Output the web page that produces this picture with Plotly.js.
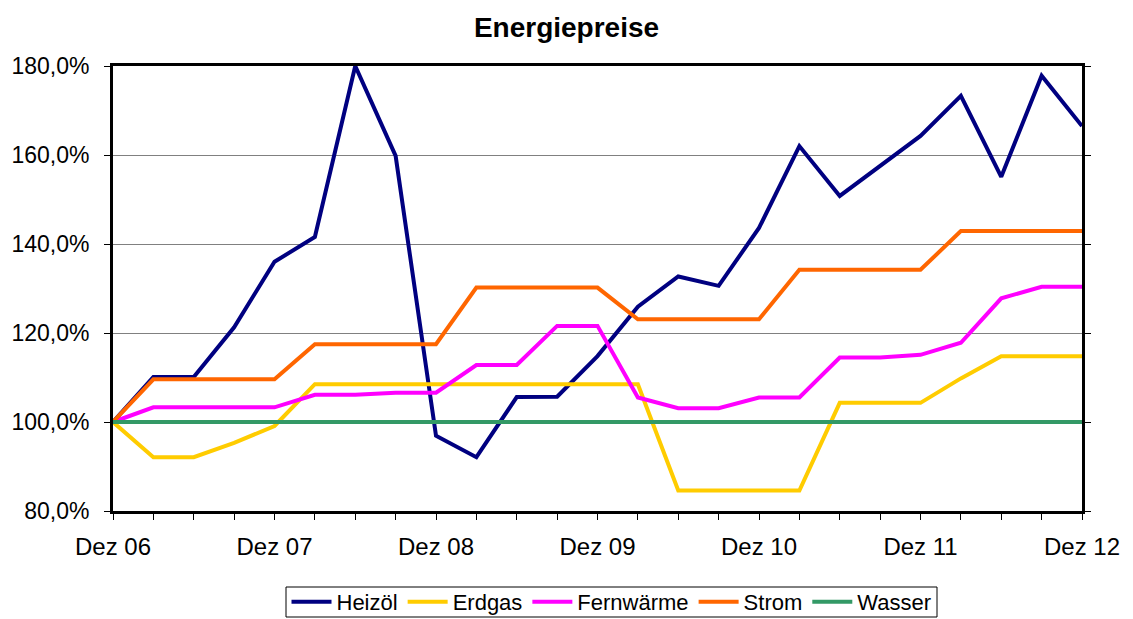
<!DOCTYPE html>
<html>
<head>
<meta charset="utf-8">
<script src="https://cdn.plot.ly/plotly-3.0.1.min.js"></script>
<style>html,body{margin:0;padding:0;background:#fff;}#chart{width:1133px;height:619px;}</style>
</head>
<body>
<div id="chart"></div>
<script>
// Quarterly index (Dez 06 = 100 %)
const quarters = Array.from({length: 25}, (_, i) => i);
const yearTickPos = [0, 4, 8, 12, 16, 20, 24];
const yearTickLabels = ["Dez 06", "Dez 07", "Dez 08", "Dez 09", "Dez 10", "Dez 11", "Dez 12"];

const heizoel = [100, 110.1, 110.1, 121.3, 136.0, 141.6, 180.0, 159.8, 96.9, 92.1, 105.6, 105.7, 114.8,
                 125.9, 132.7, 130.6, 143.6, 162.0, 150.8, 157.5, 164.3, 173.3, 155.1, 177.8, 166.5];
const erdgas = [100, 92.1, 92.1, 95.3, 99.1, 108.5, 108.5, 108.5, 108.5, 108.5, 108.5, 108.5, 108.5,
                108.5, 84.6, 84.6, 84.6, 84.6, 104.3, 104.3, 104.3, 109.8, 114.8, 114.8, 114.8];
const fernwaerme = [100, 103.3, 103.3, 103.3, 103.3, 106.1, 106.1, 106.6, 106.6, 112.8, 112.8, 121.6, 121.6,
                    105.5, 103.1, 103.1, 105.5, 105.5, 114.5, 114.5, 115.1, 117.8, 127.8, 130.4, 130.4];
const strom = [100, 109.6, 109.6, 109.6, 109.6, 117.5, 117.5, 117.5, 117.5, 130.2, 130.2, 130.2, 130.2,
               123.1, 123.1, 123.1, 123.1, 134.2, 134.2, 134.2, 134.2, 142.9, 142.9, 142.9, 142.9];
const wasser = [100, 100, 100, 100, 100, 100, 100, 100, 100, 100, 100, 100, 100,
                100, 100, 100, 100, 100, 100, 100, 100, 100, 100, 100, 100];

const seriesNames = ["Heizöl", "Erdgas", "Fernwärme", "Strom", "Wasser"];
const seriesData = [heizoel, erdgas, fernwaerme, strom, wasser];
const seriesColors = ["#000080", "#FFCC00", "#FF00FF", "#FF6600", "#339966"];

const traces = seriesNames.map((name, k) => ({
  type: "scatter",
  mode: "lines",
  name: name,
  x: quarters,
  y: seriesData[k],
  line: {color: seriesColors[k], width: 4},
  cliponaxis: false
}));

const FONT = "Liberation Sans, Arial, sans-serif";

const layout = {
  width: 1133,
  height: 619,
  paper_bgcolor: "#ffffff",
  plot_bgcolor: "#ffffff",
  separators: ",.",
  margin: {l: 113, r: 51, t: 66, b: 108},
  font: {family: FONT, color: "#000000", size: 24},
  title: {
    text: "<b>Energiepreise</b>",
    font: {family: FONT, size: 28, color: "#000000"},
    x: 0.5, xanchor: "center",
    xref: "container",
    y: 1 - 27 / 619, yanchor: "middle"
  },
  xaxis: {
    range: [0, 24],
    tickmode: "array",
    tickvals: quarters,
    ticktext: quarters.map(q => {
      const idx = yearTickPos.indexOf(q);
      return idx >= 0 ? yearTickLabels[idx] : "";
    }),
    ticks: "outside",
    ticklen: 6,
    tickwidth: 1,
    tickcolor: "#000000",
    ticklabelstandoff: 6,
    showgrid: false,
    zeroline: false,
    showline: true,
    linecolor: "#000000",
    linewidth: 3,
    mirror: true,
    tickfont: {family: FONT, size: 24, color: "#000000"},
    fixedrange: true
  },
  yaxis: {
    range: [80, 180],
    tickmode: "linear",
    tick0: 80,
    dtick: 20,
    tickformat: ".1f",
    ticksuffix: "%",
    ticks: "outside",
    ticklen: 6,
    tickwidth: 1,
    tickcolor: "#000000",
    ticklabelstandoff: 10,
    showgrid: true,
    gridcolor: "#808080",
    gridwidth: 1,
    zeroline: false,
    showline: true,
    linecolor: "#000000",
    linewidth: 3,
    mirror: "allticks",
    tickfont: {family: FONT, size: 23, color: "#000000"},
    fixedrange: true
  },
  shapes: [{
    type: "rect",
    xref: "paper", yref: "paper",
    x0: (286 - 113) / 969, x1: (937 - 113) / 969,
    y0: (511 - 617) / 445, y1: (511 - 587) / 445,
    line: {color: "#000000", width: 1},
    fillcolor: "rgba(0,0,0,0)"
  }],
  showlegend: true,
  legend: {
    orientation: "h",
    x: (611.5 - 113) / 969, xanchor: "center",
    yref: "container",
    y: (619 - 602) / 619, yanchor: "middle",
    borderwidth: 0,
    bgcolor: "rgba(0,0,0,0)",
    font: {family: FONT, size: 22, color: "#000000"},
    itemwidth: 40,
    tracegroupgap: 0
  }
};

Plotly.newPlot("chart", traces, layout, {displayModeBar: false, staticPlot: true});
</script>
</body>
</html>
